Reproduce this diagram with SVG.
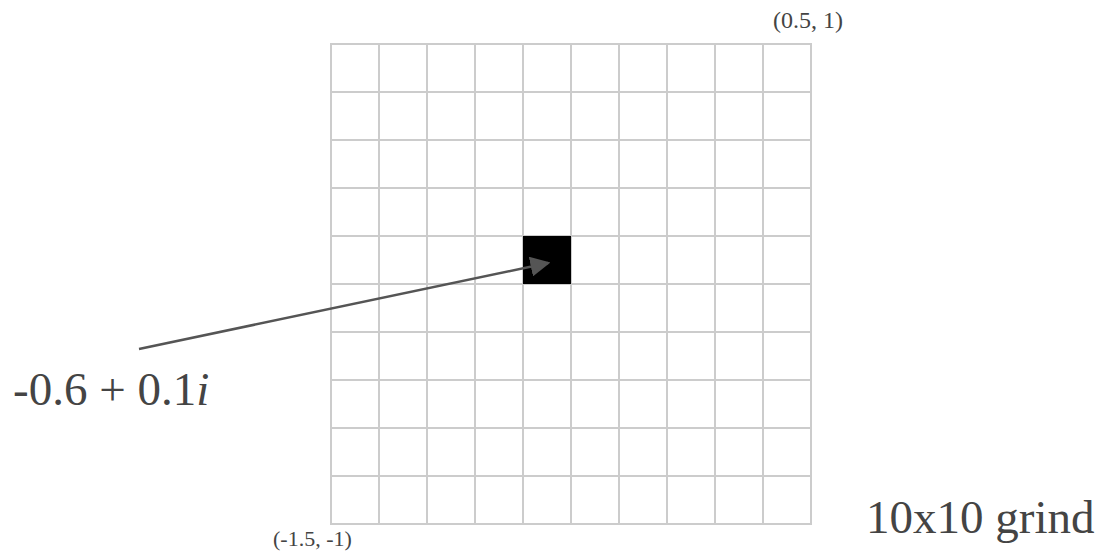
<svg xmlns="http://www.w3.org/2000/svg" width="1099" height="557" viewBox="0 0 1099 557">
<style>
.grid line{stroke:#cccccc;stroke-width:2}
.t{font-family:'Liberation Serif','DejaVu Serif',serif;fill:#444444}
</style>
<defs>
<marker id="ah" markerWidth="8" markerHeight="8" refX="7" refY="4" orient="auto" markerUnits="strokeWidth">
<path d="M0,0 L8,4 L0,8 z" fill="#555555"/>
</marker>
</defs>
<rect width="1099" height="557" fill="#ffffff"/>
<g id="grid" class="grid">
<line x1="331" y1="44" x2="331" y2="524"/>
<line x1="379" y1="44" x2="379" y2="524"/>
<line x1="427" y1="44" x2="427" y2="524"/>
<line x1="475" y1="44" x2="475" y2="524"/>
<line x1="523" y1="44" x2="523" y2="524"/>
<line x1="571" y1="44" x2="571" y2="524"/>
<line x1="619" y1="44" x2="619" y2="524"/>
<line x1="667" y1="44" x2="667" y2="524"/>
<line x1="715" y1="44" x2="715" y2="524"/>
<line x1="763" y1="44" x2="763" y2="524"/>
<line x1="811" y1="44" x2="811" y2="524"/>
<line x1="330" y1="44" x2="812" y2="44"/>
<line x1="330" y1="92" x2="812" y2="92"/>
<line x1="330" y1="140" x2="812" y2="140"/>
<line x1="330" y1="188" x2="812" y2="188"/>
<line x1="330" y1="236" x2="812" y2="236"/>
<line x1="330" y1="284" x2="812" y2="284"/>
<line x1="330" y1="332" x2="812" y2="332"/>
<line x1="330" y1="380" x2="812" y2="380"/>
<line x1="330" y1="428" x2="812" y2="428"/>
<line x1="330" y1="476" x2="812" y2="476"/>
<line x1="330" y1="524" x2="812" y2="524"/>
</g>
<g id="cell">
<rect x="523" y="236" width="48" height="48" fill="#000000"/>
</g>
<g id="connectors">
<line x1="139" y1="349" x2="548" y2="263" stroke="#555555" stroke-width="2.5" marker-end="url(#ah)"/>
</g>
<g id="label-top">
<text class="t" x="773" y="28" font-size="24">(0.5, 1)</text>
</g>
<g id="label-bottom">
<text class="t" x="273" y="546" font-size="22">(-1.5, -1)</text>
</g>
<g id="label-point">
<text class="t" x="13" y="405" font-size="47">-0.6 + 0.1<tspan font-style="italic">i</tspan></text>
</g>
<g id="label-grid">
<text class="t" x="866" y="533" font-size="47">10x10 grind</text>
</g>
</svg>
